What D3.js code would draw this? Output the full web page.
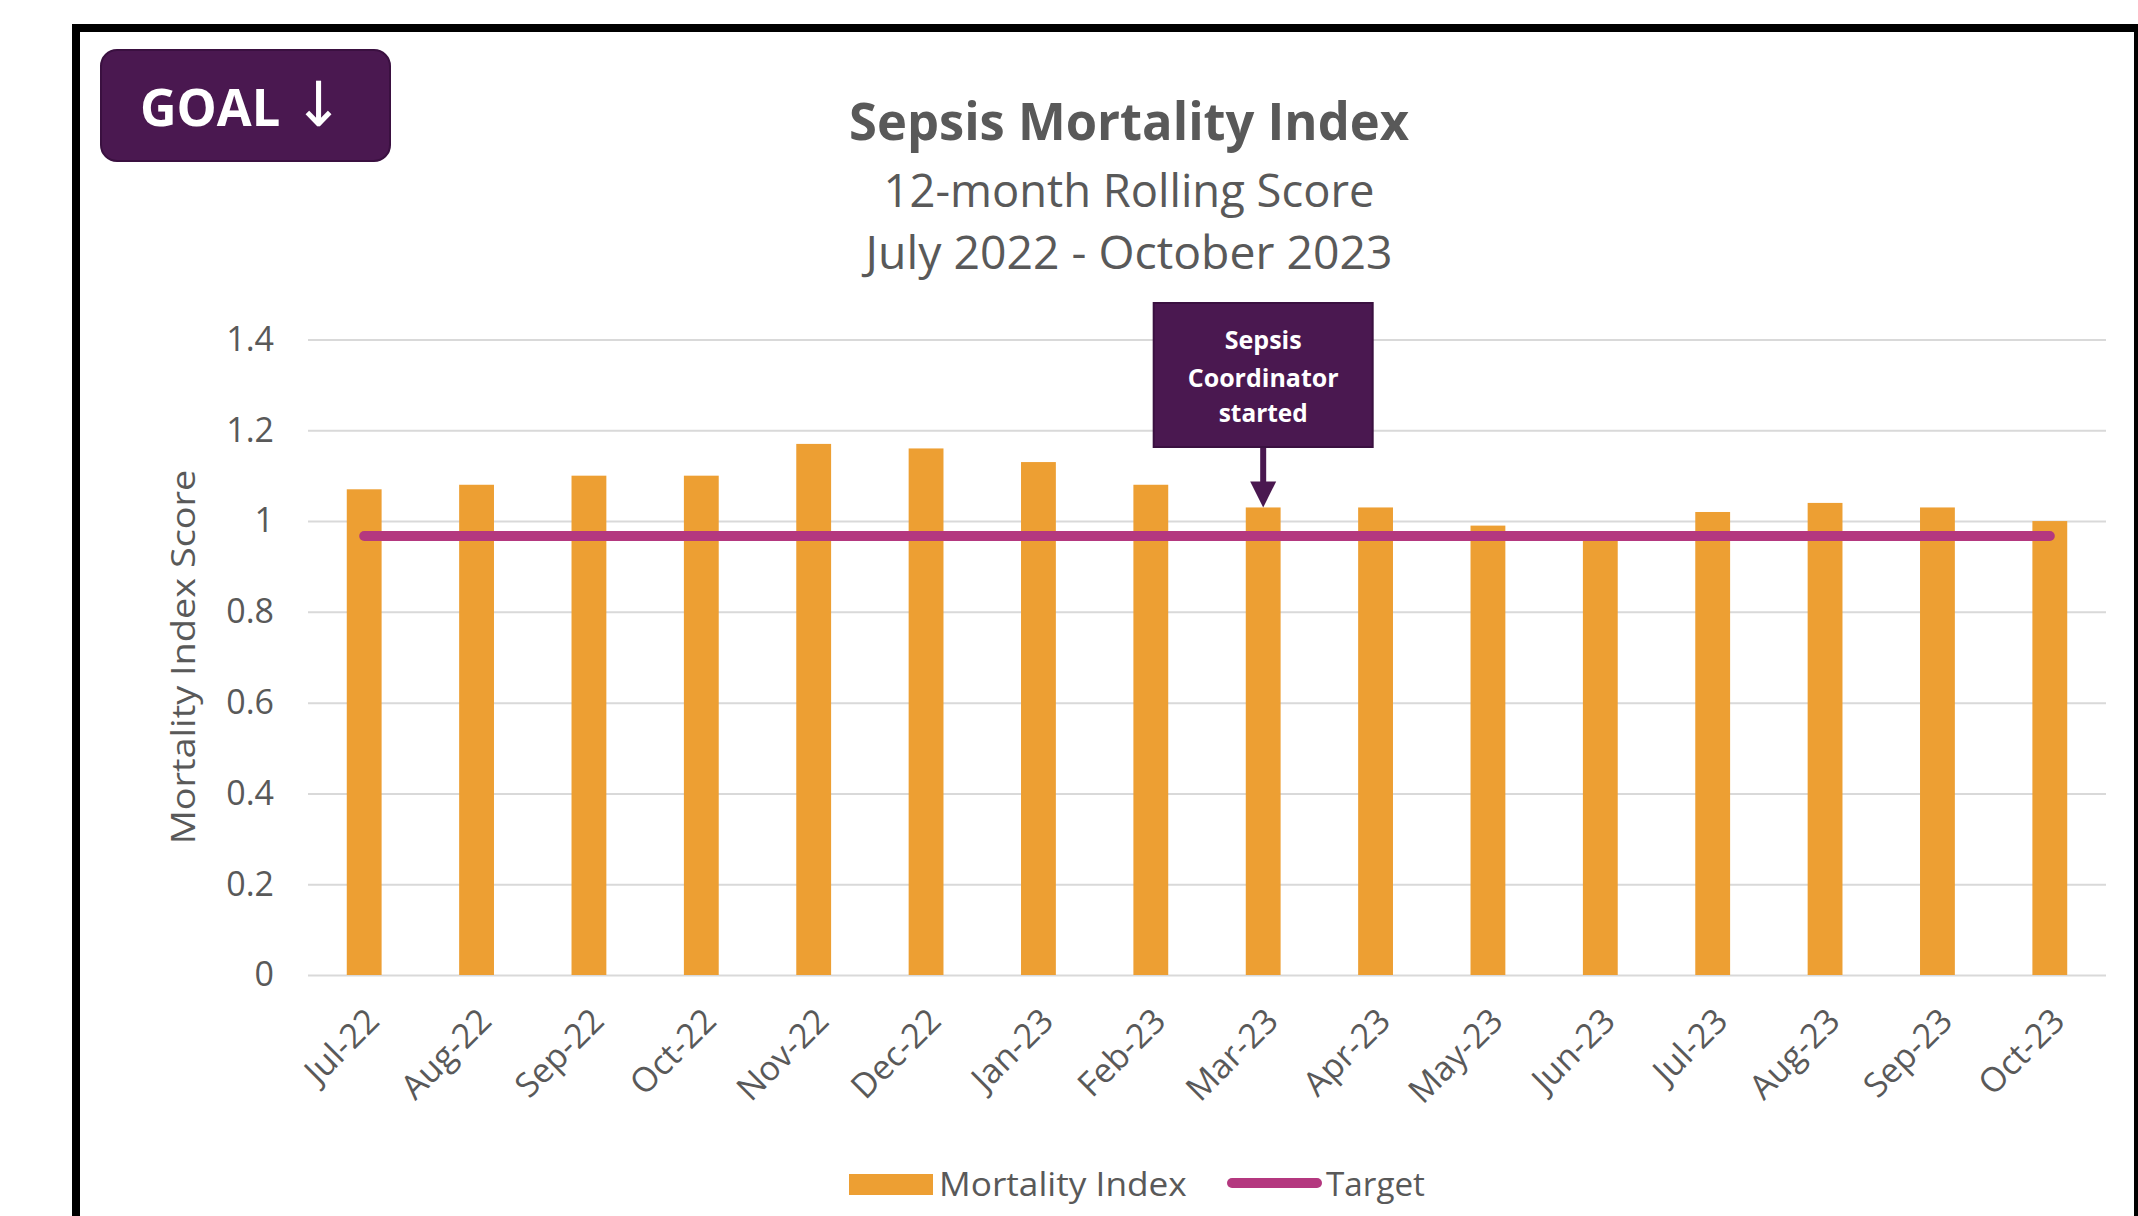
<!DOCTYPE html>
<html>
<head>
<meta charset="utf-8">
<script src="https://cdn.jsdelivr.net/npm/d3@7"></script>
<style>
  html, body { margin: 0; padding: 0; background: #fff; }
  svg { display: block; }
  text { font-family: "Open Sans", "Noto Sans", sans-serif; }
</style>
</head>
<body>
<svg id="chart"></svg>
<script>
// chart values
const months = ["Jul-22", "Aug-22", "Sep-22", "Oct-22", "Nov-22", "Dec-22", "Jan-23", "Feb-23",
    "Mar-23", "Apr-23", "May-23", "Jun-23", "Jul-23", "Aug-23", "Sep-23", "Oct-23"];
const mortalityIndex = [1.07, 1.08, 1.10, 1.10, 1.17, 1.16, 1.13, 1.08,
    1.03, 1.03, 0.99, 0.97, 1.02, 1.04, 1.03, 1.00];
const target = [0.967, 0.967, 0.967, 0.967, 0.967, 0.967, 0.967, 0.967,
    0.967, 0.967, 0.967, 0.967, 0.967, 0.967, 0.967, 0.967];
const yTicks = [0, 0.2, 0.4, 0.6, 0.8, 1, 1.2, 1.4];
const yTickLabels = ["0", "0.2", "0.4", "0.6", "0.8", "1", "1.2", "1.4"];
const titleLines = ["Sepsis Mortality Index", "12-month Rolling Score", "July 2022 - October 2023"];
const noteMonth = "Mar-23";
const noteLines = ["Sepsis", "Coordinator", "started"];
const legendNames = ["Mortality Index", "Target"];

const width = 2138, height = 1216;
const barColor = "#ED9F33";
const targetColor = "#B4387F";
const purple = "#4A1850";
const grey = "#595959";

// plot area, as measured on the reference
const plot = { left: 308, right: 2106, top: 339.5, bottom: 975 };

const svg = d3.select("#chart")
    .attr("width", width)
    .attr("height", height);

svg.append("rect")
    .attr("width", width)
    .attr("height", height)
    .attr("fill", "#fff");

// squash a text horizontally so it takes the width the (narrower) original font had
function squeeze(text, x, y, w) {
    const k = w / text.node().getComputedTextLength();
    text.attr("transform", `translate(${x},${y}) scale(${k},1)`);
}

// outer black frame (runs off the right and bottom edge)
svg.append("rect")
    .attr("x", 76)
    .attr("y", 28)
    .attr("width", 2062)
    .attr("height", 1300)
    .attr("fill", "none")
    .attr("stroke", "#000")
    .attr("stroke-width", 8);

// GOAL badge
svg.append("rect")
    .attr("x", 101)
    .attr("y", 50)
    .attr("width", 289)
    .attr("height", 111)
    .attr("rx", 16)
    .attr("fill", purple)
    .attr("stroke", "#3a1040")
    .attr("stroke-width", 2);

const goal = svg.append("text")
    .attr("fill", "#fff")
    .attr("font-weight", 700)
    .attr("font-size", 52);
goal.append("tspan").text("GOAL ");
goal.append("tspan")
    .style("font-family", "'DejaVu Sans', sans-serif")
    .attr("font-weight", 400)
    .attr("font-size", 62)
    .text("↓");
squeeze(goal, 140, 126, 204);

// titles
const titleBase = [140, 207, 269];
const titleWidth = [560, 491, 527];
titleLines.forEach((t, i) => {
    const el = svg.append("text")
        .attr("text-anchor", "middle")
        .attr("fill", grey)
        .attr("font-weight", i == 0 ? 700 : 400)
        .attr("font-size", i == 0 ? 52 : 45)
        .text(t);
    squeeze(el, 1129, titleBase[i], titleWidth[i]);
});

const x = d3.scaleBand()
    .domain(months)
    .range([plot.left, plot.right])
    .paddingInner(0.69)
    .paddingOuter(0.345);

const y = d3.scaleLinear()
    .domain([0, 1.4])
    .range([plot.bottom, plot.top]);

// y axis with gridlines
const yAxis = svg.append("g")
    .attr("transform", `translate(${plot.left},0)`)
    .call(d3.axisLeft(y)
        .tickValues(yTicks)
        .tickFormat((d, i) => yTickLabels[i])
        .tickSize(-(plot.right - plot.left))
        .tickPadding(34));
yAxis.select(".domain").remove();
yAxis.selectAll(".tick line")
    .attr("stroke", "#D9D9D9")
    .attr("stroke-width", 2);
yAxis.selectAll(".tick text")
    .attr("fill", grey)
    .attr("font-size", 34)
    .style("font-family", "'Open Sans', sans-serif");

// x axis labels
const xAxis = svg.append("g")
    .attr("transform", `translate(0,${plot.bottom})`)
    .call(d3.axisBottom(x).tickSize(0));
xAxis.select(".domain").remove();
xAxis.selectAll(".tick text")
    .attr("x", 0)
    .attr("y", 0)
    .attr("dy", 0)
    .attr("fill", grey)
    .attr("font-size", 34)
    .style("font-family", "'Open Sans', sans-serif")
    .style("text-anchor", "end")
    .attr("transform", "translate(17,48) rotate(-45)");

// y axis title
const yTitle = svg.append("text")
    .attr("text-anchor", "middle")
    .attr("fill", grey)
    .attr("font-size", 33)
    .text("Mortality Index Score");
const yTitleLen = yTitle.node().getComputedTextLength();
yTitle.attr("transform", `translate(195,657) rotate(-90) scale(${375 / yTitleLen},1)`);

// bars
svg.append("g")
    .selectAll("rect")
    .data(months)
    .join("rect")
    .attr("x", d => x(d))
    .attr("width", x.bandwidth())
    .attr("y", (d, i) => y(mortalityIndex[i]))
    .attr("height", (d, i) => y(0) - y(mortalityIndex[i]))
    .attr("fill", barColor);

// target line
const targetLine = d3.line()
    .x((d, i) => x(months[i]) + x.bandwidth() / 2)
    .y(d => y(d));

svg.append("path")
    .datum(target)
    .attr("d", targetLine)
    .attr("fill", "none")
    .attr("stroke", targetColor)
    .attr("stroke-width", 10)
    .attr("stroke-linecap", "round");

// annotation: box with arrow pointing at the bar
const noteIdx = months.indexOf(noteMonth);
const noteX = x(noteMonth) + x.bandwidth() / 2;
const noteTip = y(mortalityIndex[noteIdx]);
const boxTop = 303, boxBottom = 447, boxW = 219;

svg.append("line")
    .attr("x1", noteX)
    .attr("x2", noteX)
    .attr("y1", boxBottom)
    .attr("y2", noteTip - 24)
    .attr("stroke", purple)
    .attr("stroke-width", 6);

svg.append("path")
    .attr("d", `M${noteX - 13},${noteTip - 26} L${noteX + 13},${noteTip - 26} L${noteX},${noteTip} Z`)
    .attr("fill", purple);

svg.append("rect")
    .attr("x", noteX - boxW / 2)
    .attr("y", boxTop)
    .attr("width", boxW)
    .attr("height", boxBottom - boxTop)
    .attr("fill", purple)
    .attr("stroke", "#3a1040")
    .attr("stroke-width", 2);

const noteBase = [349, 387, 422];
const noteWidth = [77, 151, 89];
noteLines.forEach((t, i) => {
    const el = svg.append("text")
        .attr("text-anchor", "middle")
        .attr("fill", "#fff")
        .attr("font-weight", 700)
        .attr("font-size", 25)
        .text(t);
    squeeze(el, noteX, noteBase[i], noteWidth[i]);
});

// legend
const legend = svg.append("g");
legend.append("rect")
    .attr("x", 849)
    .attr("y", 1174)
    .attr("width", 84)
    .attr("height", 21)
    .attr("fill", barColor);
const leg1 = legend.append("text")
    .attr("fill", grey)
    .attr("font-size", 33)
    .text(legendNames[0]);
squeeze(leg1, 939, 1196, 248);

legend.append("line")
    .attr("x1", 1232)
    .attr("x2", 1317)
    .attr("y1", 1183)
    .attr("y2", 1183)
    .attr("stroke", targetColor)
    .attr("stroke-width", 10)
    .attr("stroke-linecap", "round");
const leg2 = legend.append("text")
    .attr("fill", grey)
    .attr("font-size", 33)
    .text(legendNames[1]);
squeeze(leg2, 1326, 1196, 99);
</script>
</body>
</html>
